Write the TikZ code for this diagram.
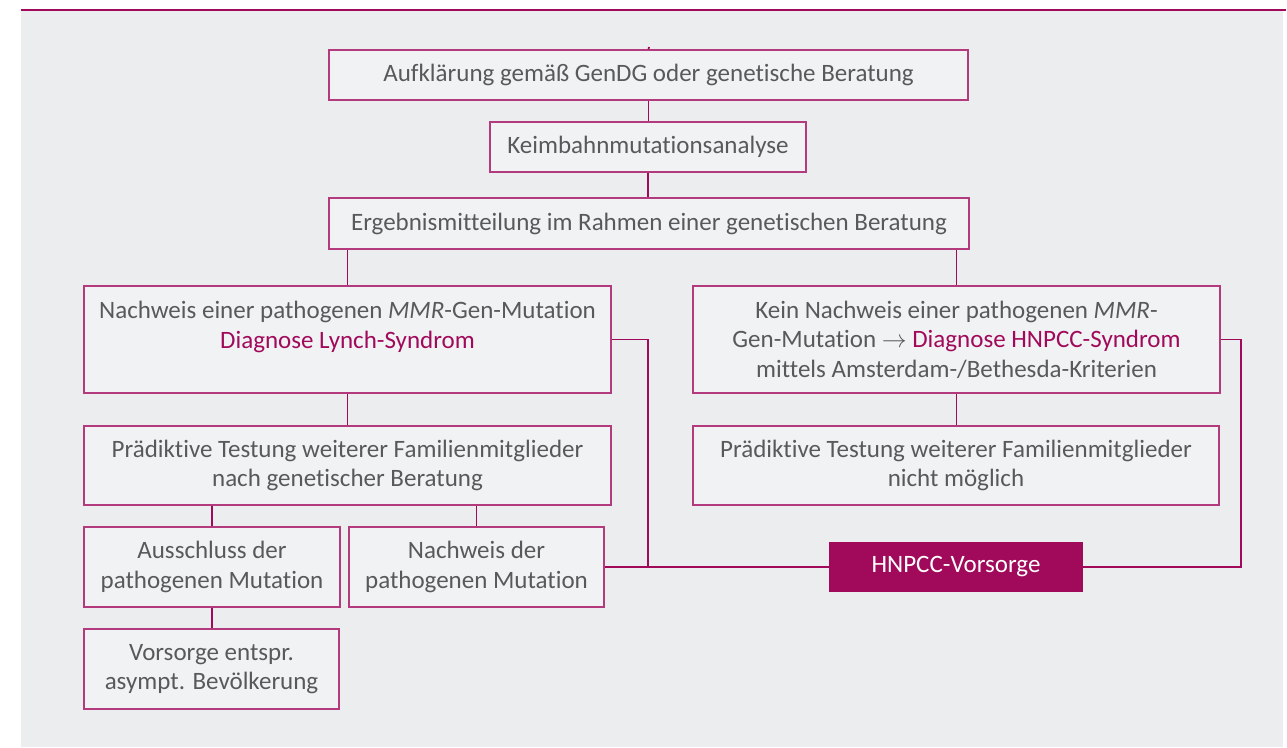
\documentclass[tikz,border=0pt]{standalone}
\usepackage{fontspec}
\setmainfont{Carlito}[Ligatures=NoCommon]
\definecolor{mag}{HTML}{A10A5B}
\definecolor{magrand}{HTML}{B33A7C}
\definecolor{panel}{HTML}{ECEDEF}
\definecolor{kastenfill}{HTML}{F1F2F4}
\definecolor{grautext}{HTML}{58595B}

\begin{document}
\begin{tikzpicture}[x=1pt, y=-1pt, font=\fontsize{25}{29.5}\selectfont,
  kasten/.style={draw=magrand, fill=kastenfill, line width=1.3pt, text=grautext,
    align=center, inner sep=0pt},
  linie/.style={draw=mag, line width=1.8pt}]
  \useasboundingbox (0,0) rectangle (1287,747);
  % --- Hintergrund ---
  \fill[panel] (21,10) rectangle (1283,747);
  \draw[mag, line width=2.5pt] (21,10) -- (1286,10);

  % --- Oben: Aufklaerung bis Ergebnis ---
  \coordinate (start) at (649,47);
  \node[kasten, minimum width=639, minimum height=50] (aufk) at (648.5,75)
    {Aufklärung gemäß GenDG oder genetische Beratung};
  \node[kasten, minimum width=316, minimum height=50] (keim) at (648,147)
    {Keimbahnmutationsanalyse};
  \node[kasten, minimum width=640, minimum height=51] (erg) at (649,223.5)
    {Ergebnismitteilung im Rahmen einer genetischen Beratung};

  % --- Links: Lynch-Syndrom ---
  \node[kasten, minimum width=527, minimum height=107] (lynch) at (347.5,339.5)
    {Nachweis einer pathogenen \textit{MMR}-Gen-Mutation\\
     \textcolor{mag}{Diagnose Lynch-Syndrom}\\ ~};
  \node[kasten, minimum width=527, minimum height=79] (praedL) at (347.5,465.5)
    {Prädiktive Testung weiterer Familienmitglieder\\nach genetischer Beratung};
  \node[kasten, minimum width=256, minimum height=80] (aussch) at (212,567)
    {Ausschluss der\\pathogenen Mutation};
  \node[kasten, minimum width=255, minimum height=80] (nachw) at (476.5,567)
    {Nachweis der\\pathogenen Mutation};
  \node[kasten, minimum width=255, minimum height=80] (vors) at (211.5,669)
    {Vorsorge entspr.\\asympt. Bevölkerung};

  % --- Rechts: HNPCC ---
  \node[kasten, minimum width=527, minimum height=107] (kein) at (956.5,339.5)
    {Kein Nachweis einer pathogenen \textit{MMR}-\\
     Gen-Mutation $\rightarrow$ \textcolor{mag}{Diagnose HNPCC-Syndrom}\\
     mittels Amsterdam-/Bethesda-Kriterien};
  \node[kasten, minimum width=526, minimum height=79] (praedR) at (956,465.5)
    {Prädiktive Testung weiterer Familienmitglieder\\nicht möglich};
  \node[fill=mag, text=white, inner sep=0pt, minimum width=254, minimum height=50]
    (hnpcc) at (956,567) {HNPCC-Vorsorge};

  % --- Verbindungen ---
  \coordinate (jl) at (648,567);
  \coordinate (jr) at (1241,567);
  \draw[linie] (start) -- (aufk.north);
  \draw[linie] (aufk.south) -- (aufk.south |- keim.north);
  \draw[linie] (keim.south) -- (keim.south |- erg.north);
  \draw[linie] (lynch.north |- erg.south) -- (lynch.north);
  \draw[linie] (kein.north |- erg.south) -- (kein.north);
  \draw[linie] (lynch.south) -- (praedL.north);
  \draw[linie] (kein.south) -- (kein.south |- praedR.north);
  \draw[linie] (aussch.north |- praedL.south) -- (aussch.north);
  \draw[linie] (nachw.north |- praedL.south) -- (nachw.north);
  \draw[linie] (aussch.south) -- (aussch.south |- vors.north);
  \draw[linie] (nachw.east) -- (hnpcc.west);
  \draw[linie] (lynch.east) -| (jl);
  \draw[linie] (kein.east) -| (jr) -- (hnpcc.east);
\end{tikzpicture}
\end{document}
